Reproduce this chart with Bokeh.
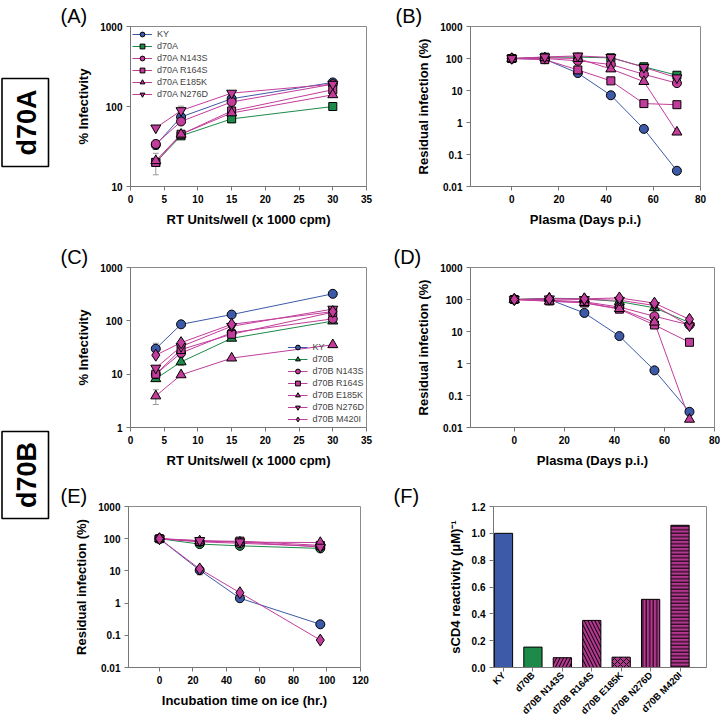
import math
from bokeh.plotting import figure
from bokeh.layouts import row, column
from bokeh.models import (Range1d, FixedTicker, SingleIntervalTicker, Legend, LegendItem, Title,
                          Whisker, TeeHead, ColumnDataSource, CustomJSTickFormatter, PrintfTickFormatter)
from bokeh.core.properties import value
from bokeh.embed import file_html
from bokeh.resources import INLINE

# ---------------- data ----------------
rt_units = [3.75, 7.5, 15, 30]
days = [0, 14, 28, 42, 56, 70]
hours = [0, 24, 48, 96]

a_names = ["KY", "d70A", "d70A N143S", "d70A R164S", "d70A E185K", "d70A N276D"]
a_ky = [33, 74, 125, 200]
a_d70a = [20, 43, 70, 100]
a_n143s = [34, 65, 114, 190]
a_r164s = [20, 45, 88, 162]
a_e185k = [21, 45, 83, 140]
a_n276d = [54, 89, 147, 190]
a_err_x = [3.75, 3.75, 7.5]
a_err_lo = [29, 14, 78]
a_err_hi = [38, 26, 101]

b_ky = [100, 95, 35, 7.1, 0.63, 0.031]
b_d70a = [100, 110, 110, 105, 55, 30]
b_n143s = [100, 100, 85, 65, 32, 17]
b_r164s = [100, 92, 44, 20, 3.9, 3.6]
b_e185k = [100, 105, 100, 47, 19, 0.5]
b_n276d = [100, 112, 120, 108, 53, 25]

c_names = ["KY", "d70B", "d70B N143S", "d70B R164S", "d70B E185K", "d70B N276D", "d70B M420I"]
c_ky = [30, 86, 131, 321]
c_d70b = [8.2, 17, 47, 99]
c_n143s = [10, 25, 60, 109]
c_r164s = [10, 29, 56, 145]
c_e185k = [3.9, 9.7, 20, 35.6]
c_n276d = [13, 33, 79, 166]
c_m420i = [22.7, 39, 86, 149]
c_err_x = [3.75, 3.75, 7.5]
c_err_lo = [25, 2.7, 14.5]
c_err_hi = [38, 5.1, 20.5]

d_ky = [100, 100, 38, 7.2, 0.61, 0.031]
d_d70b = [100, 110, 105, 86, 55, 19]
d_n143s = [100, 95, 85, 58, 30, 16]
d_r164s = [100, 90, 78, 50, 16, 4.6]
d_e185k = [100, 88, 80, 52, 19.5, 0.018]
d_n276d = [100, 105, 100, 95, 65, 15]
d_m420i = [100, 105, 105, 112, 77, 24]

e_ky = [100, 10.5, 1.42, 0.22]
e_d70b = [100, 68, 60, 50]
e_n143s = [100, 80, 72, 58]
e_r164s = [100, 82, 84, 62]
e_e185k = [100, 85, 78, 76]
e_n276d = [100, 88, 80, 55]
e_m420i = [100, 11.5, 2.1, 0.071]
e_err_x = [24]
e_err_lo = [7.5]
e_err_hi = [14]

f_labels = ["KY", "d70B", "d70B N143S", "d70B R164S", "d70B E185K", "d70B N276D", "d70B M420I"]
f_values = [1.0, 0.152, 0.073, 0.351, 0.077, 0.508, 1.06]

log_ticks_a = [10, 100, 1000]
log_ticks_c = [1, 10, 100, 1000]
log_ticks_res = [0.01, 0.1, 1, 10, 100, 1000]
f_yticks = [0.0, 0.2, 0.4, 0.6, 0.8, 1.0, 1.2]

# ---------------- styles ----------------
BLUE = "#3d5aa8"
GREEN = "#1d8a49"
MAG = "#c23d9b"
MAG_BAR = "#b2378e"
FONT = "Liberation Sans"

A_STY = [(BLUE, "circle"), (GREEN, "square"), (MAG, "circle"), (MAG, "square"),
         (MAG, "triangle"), (MAG, "inverted_triangle")]
C_STY = [(BLUE, "circle"), (GREEN, "triangle"), (MAG, "circle"), (MAG, "square"),
         (MAG, "triangle"), (MAG, "inverted_triangle"), (MAG, "diamond")]
E_STY = [(BLUE, "circle"), (GREEN, "circle"), (MAG, "circle"), (MAG, "square"),
         (MAG, "triangle"), (MAG, "inverted_triangle"), (MAG, "diamond")]
MSIZE = {"circle": 9, "square": 8, "triangle": 10, "inverted_triangle": 10, "diamond": 12}


def panel(w, h, bl, br, bt, bb, xr, yr, tag, tag_off, log=True):
    p = figure(width=w, height=h, x_range=Range1d(*xr), y_range=Range1d(*yr),
               y_axis_type="log" if log else "linear", title=None,
               toolbar_location=None, output_backend="svg",
               min_border_left=bl, min_border_right=br, min_border_top=bt, min_border_bottom=bb)
    p.add_layout(Title(text=tag, align="left", offset=tag_off, standoff=0,
                       text_font=FONT, text_font_size="20px", text_font_style="normal",
                       text_color="black", vertical_align="bottom"), "above")
    p.xgrid.visible = False
    p.ygrid.visible = False
    p.outline_line_color = "#8a8a8a"
    p.background_fill_color = "white"
    p.border_fill_color = "white"
    for ax in p.axis:
        ax.major_label_text_font = FONT
        ax.major_label_text_font_size = "10px"
        ax.major_label_text_font_style = "bold"
        ax.major_label_text_color = "black"
        ax.axis_label_text_font = FONT
        ax.axis_label_text_font_size = "13px"
        ax.axis_label_text_font_style = "bold"
        ax.axis_label_text_color = "black"
        ax.axis_line_color = "#777777"
        ax.major_tick_line_color = "#777777"
        ax.major_tick_out = 4
        ax.major_tick_in = 0
        ax.minor_tick_line_color = None
        ax.axis_label_standoff = 6
        ax.major_label_standoff = 4
    return p


def draw(p, x, ys, styles):
    lines = []
    for y, (c, m) in zip(ys, styles):
        lines.append(p.line(x, y, line_color=c, line_width=1))
    marks = []
    for y, (c, m) in zip(ys, styles):
        marks.append(p.scatter(x, y, marker=m, size=MSIZE[m], fill_color=c,
                               line_color="black", line_width=1))
    return list(zip(lines, marks))


def errors(p, xs, lo, hi):
    src = ColumnDataSource(dict(x=xs, lo=lo, hi=hi))
    w = Whisker(source=src, base="x", lower="lo", upper="hi", line_color="#9a9a9a", line_width=1,
                upper_head=TeeHead(size=6, line_color="#9a9a9a"),
                lower_head=TeeHead(size=6, line_color="#9a9a9a"))
    p.add_layout(w)


def legend(p, names, pairs, loc):
    items = [LegendItem(label=n, renderers=list(r)) for n, r in zip(names, pairs)]
    lg = Legend(items=items, location=loc, glyph_width=20, glyph_height=12, label_height=11,
                spacing=0, padding=3, margin=2, label_standoff=5,
                label_text_font=FONT, label_text_font_size="9px",
                border_line_color=None, background_fill_alpha=0)
    p.add_layout(lg)


fmt = CustomJSTickFormatter(code="return String(tick);")

# ---------------- panel A ----------------
pA = panel(322, 236, 78, 8, 24, 47, (0, 35), (10, 1000), "(A)", -70)
pA.xaxis.ticker = SingleIntervalTicker(interval=5)
pA.yaxis.ticker = FixedTicker(ticks=log_ticks_a)
pA.yaxis.formatter = fmt
pA.xaxis.axis_label = "RT Units/well (x 1000 cpm)"
pA.yaxis.axis_label = "% Infectivity"
errors(pA, a_err_x, a_err_lo, a_err_hi)
prsA = draw(pA, rt_units, [a_ky, a_d70a, a_n143s, a_r164s, a_e185k, a_n276d], A_STY)
legend(pA, a_names, prsA, "top_left")

# ---------------- panel B ----------------
pB = panel(346, 236, 96, 20, 26, 50, (-17.5, 80), (0.01, 1000), "(B)", -75)
pB.xaxis.ticker = SingleIntervalTicker(interval=20)
pB.yaxis.ticker = FixedTicker(ticks=log_ticks_res)
pB.yaxis.formatter = fmt
pB.xaxis.axis_label = "Plasma (Days p.i.)"
pB.yaxis.axis_label = "Residual infection (%)"
draw(pB, days, [b_ky, b_d70a, b_n143s, b_r164s, b_e185k, b_n276d], A_STY)

# ---------------- panel C ----------------
pC = panel(322, 242, 78, 8, 26, 51, (0, 35), (1, 1000), "(C)", -70)
pC.xaxis.ticker = SingleIntervalTicker(interval=5)
pC.yaxis.ticker = FixedTicker(ticks=log_ticks_c)
pC.yaxis.formatter = fmt
pC.xaxis.axis_label = "RT Units/well (x 1000 cpm)"
pC.yaxis.axis_label = "% Infectivity"
errors(pC, c_err_x, c_err_lo, c_err_hi)
prsC = draw(pC, rt_units, [c_ky, c_d70b, c_n143s, c_r164s, c_e185k, c_n276d, c_m420i], C_STY)
legend(pC, c_names, prsC, "bottom_right")

# ---------------- panel D ----------------
pD = panel(346, 242, 96, 6, 31, 47, (-17.5, 80), (0.01, 1000), "(D)", -77)
pD.xaxis.ticker = SingleIntervalTicker(interval=20)
pD.yaxis.ticker = FixedTicker(ticks=log_ticks_res)
pD.yaxis.formatter = fmt
pD.xaxis.axis_label = "Plasma (Days p.i.)"
pD.yaxis.axis_label = "Residual infection (%)"
draw(pD, days, [d_ky, d_d70b, d_n143s, d_r164s, d_e185k, d_n276d, d_m420i], C_STY)

# ---------------- panel E ----------------
pE = panel(322, 246, 76, 14, 28, 57, (-18.5, 120), (0.01, 1000), "(E)", -68)
pE.xaxis.ticker = SingleIntervalTicker(interval=20)
pE.yaxis.ticker = FixedTicker(ticks=log_ticks_res)
pE.yaxis.formatter = fmt
pE.xaxis.axis_label = "Incubation time on ice (hr.)"
pE.yaxis.axis_label = "Residual infection (%)"
errors(pE, e_err_x, e_err_lo, e_err_hi)
draw(pE, hours, [e_ky, e_d70b, e_n143s, e_r164s, e_e185k, e_n276d, e_m420i], E_STY)

# ---------------- panel F ----------------
pF = panel(346, 246, 119, 14, 28, 53, (0.66, 7.9), (0, 1.2), "(F)", -100, log=False)
f_pos = [i + 1 for i in range(len(f_labels))]
f_fill = [BLUE, GREEN, MAG_BAR, MAG_BAR, MAG_BAR, MAG_BAR, MAG_BAR]
f_hatch = [" ", " ", "/", "\\", "x", "|", "-"]
f_scale = [1, 1, 7, 7, 6, 3.5, 3.5]
srcF = ColumnDataSource(dict(x=f_pos, top=f_values, fill=f_fill, hatch=f_hatch, hs=f_scale))
pF.vbar(x="x", top="top", bottom=0, width=0.62, source=srcF, fill_color="fill",
        line_color="black", line_width=1, hatch_pattern="hatch", hatch_color="black",
        hatch_weight=1, hatch_scale="hs")
pF.xaxis.ticker = FixedTicker(ticks=f_pos)
pF.xaxis.major_label_overrides = {pos: lab for pos, lab in zip(f_pos, f_labels)}
pF.xaxis.major_label_orientation = math.pi / 4
pF.xaxis.major_label_text_font_size = "9.5px"
pF.xaxis.major_label_standoff = 2
pF.yaxis.ticker = FixedTicker(ticks=f_yticks)
pF.yaxis.formatter = PrintfTickFormatter(format="%.1f")
pF.yaxis.axis_label = "sCD4 reactivity (\u03bcM)\u207b\u00b9"

# ---------------- side boxes ----------------
bx = figure(width=52, height=724, x_range=Range1d(0, 52), y_range=Range1d(724, 0), title=None,
            toolbar_location=None, output_backend="svg", min_border=0)
bx.axis.visible = False
bx.xgrid.visible = False
bx.ygrid.visible = False
bx.outline_line_color = None
box_names = ["d70A", "d70B"]
bx.quad(left=[1.5, 1.5], right=[48, 48], top=[78, 431], bottom=[166, 518],
        fill_color=None, line_color="black", line_width=1.6)
bx.text(x=[26, 26], y=[122, 474.5], text=box_names, angle=math.pi / 2,
        text_align="center", text_baseline="middle", text_font=value(FONT),
        text_font_style="bold", text_font_size="27px", text_color="black")

layout = row(bx, column(row(pA, pB), row(pC, pD), row(pE, pF)))

open("out.html", "w").write(file_html(layout, INLINE))
